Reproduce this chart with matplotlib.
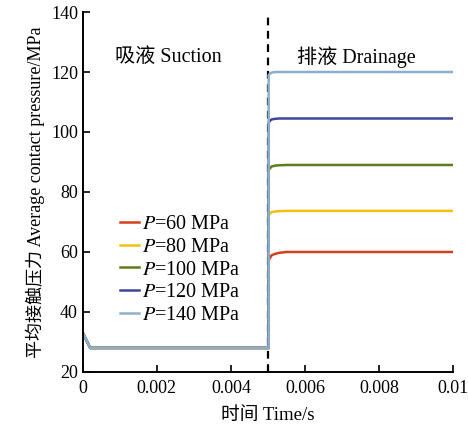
import matplotlib.pyplot as plt

plt.rcParams['font.family'] = ['Liberation Serif', 'Noto Sans CJK SC']
plt.rcParams['mathtext.fontset'] = 'stix'

# Dados
t = [0, 0.0002, 0.00502, 0.00502, 0.00507, 0.0051, 0.0052, 0.0053, 0.0055, 0.01]
p60 = [33, 28, 28, 57.3, 58.3, 58.9, 59.4, 59.7, 60.0, 60.0]
p80 = [33, 28, 28, 72.3, 73.0, 73.3, 73.5, 73.6, 73.7, 73.7]
p100 = [33, 28, 28, 87.3, 88.1, 88.5, 88.8, 88.9, 89.0, 89.0]
p120 = [33, 28, 28, 103.2, 103.9, 104.2, 104.4, 104.5, 104.5, 104.5]
p140 = [33, 28, 28, 119.0, 119.6, 119.8, 120.0, 120.0, 120.0, 120.0]
series = [p60, p80, p100, p120, p140]
labels = ['$P$=60 MPa', '$P$=80 MPa', '$P$=100 MPa', '$P$=120 MPa', '$P$=140 MPa']
colors = ['#d2401c', '#f3c10c', '#5f7b1c', '#3f4796', '#8eafcb']

fig = plt.figure(figsize=(4.68, 4.29), dpi=100)
ax = fig.add_axes([0.177, 0.133, 0.791, 0.839])

ax.axvline(0.005, color='black', ls=(0, (3.5, 2.5)), lw=1.6, zorder=1)

for y, lab, c in zip(series, labels, colors):
    ax.plot(t, y, color=c, lw=1.8, label=lab, zorder=2)

ax.set_xlim(0, 0.01)
ax.set_ylim(20, 140)
ax.set_xticks([0, 0.002, 0.004, 0.006, 0.008, 0.01])
ax.set_xticklabels(['0', '0.002', '0.004', '0.006', '0.008', '0.01'])
ax.set_yticks([20, 40, 60, 80, 100, 120, 140])
ax.tick_params(direction='in', labelsize=13, length=5, width=1.2)
ax.tick_params(axis='x', pad=6)
for s in ['top', 'right']:
    ax.spines[s].set_visible(False)
for s in ['left', 'bottom']:
    ax.spines[s].set_linewidth(1.4)

ax.set_xlabel('时间 Time/s', fontsize=13.5, labelpad=7)
ax.set_ylabel('平均接触压力 Average contact pressure/MPa', fontsize=13, labelpad=4)

ax.text(0.00232, 125, '吸液 Suction', fontsize=14.5, ha='center', va='center')
ax.text(0.00738, 125, '排液 Drainage', fontsize=14.5, ha='center', va='center')

ax.legend(loc='lower left', bbox_to_anchor=(0.052, 0.079), frameon=False,
          fontsize=14.5, handlelength=0.95, handletextpad=0.12, labelspacing=0.19)

plt.savefig('out.png', dpi=100)
